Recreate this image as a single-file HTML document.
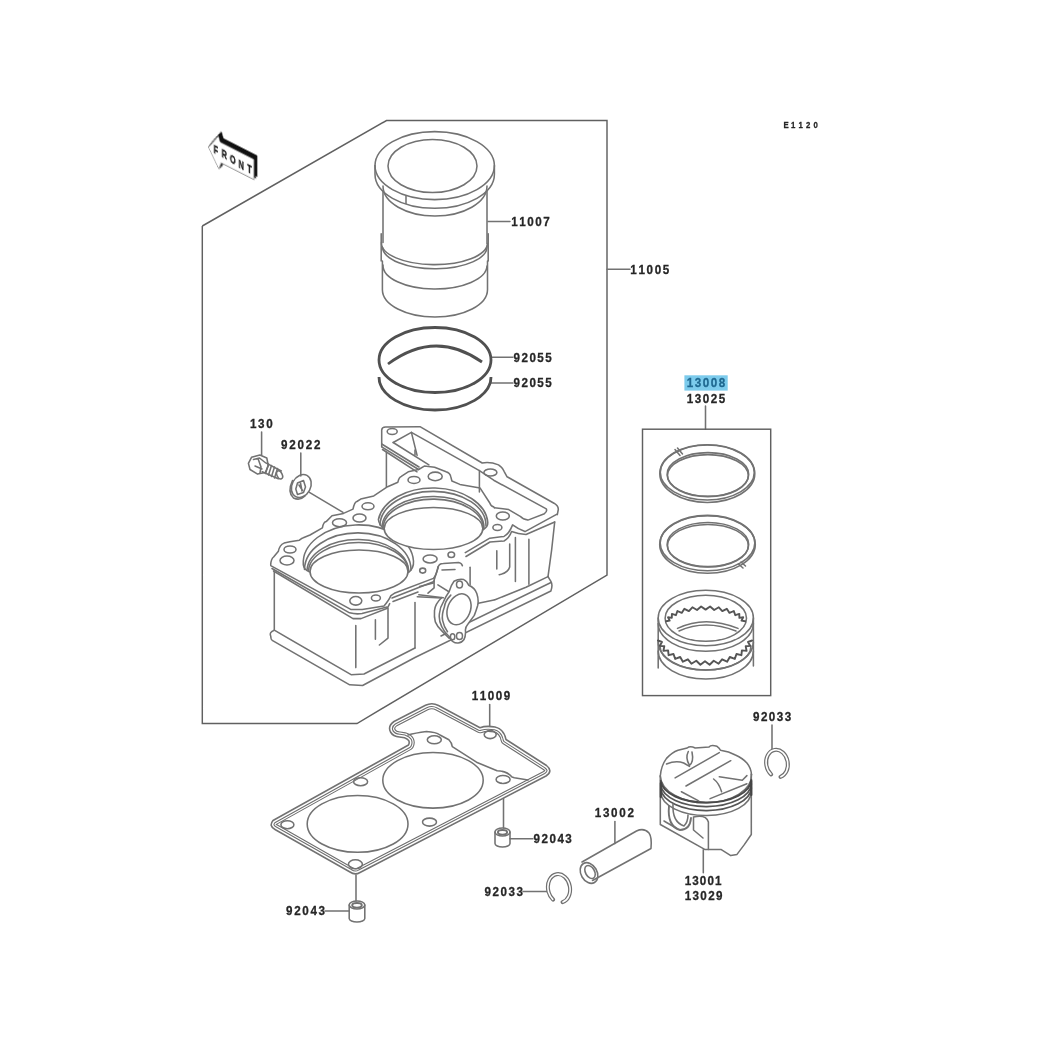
<!DOCTYPE html>
<html><head><meta charset="utf-8">
<style>
html,body{margin:0;padding:0;background:#fff;width:1045px;height:1045px;overflow:hidden}
svg{display:block;filter:blur(0.3px)}
.l{fill:none;stroke:#727272;stroke-width:1.55;stroke-linejoin:round;stroke-linecap:round}
.k{fill:none;stroke:#606060;stroke-width:1.45}
.w{fill:#fff;stroke:#6e6e6e;stroke-width:1.1;stroke-linejoin:round}
text{font-family:"Liberation Sans",sans-serif;font-weight:bold;font-size:12px;fill:#262626;stroke:#262626;stroke-width:0.3}
</style></head>
<body>
<svg width="1045" height="1045" viewBox="0 0 1045 1045">
<!-- big box -->
<polyline class="k" points="202.3,226 386.5,120.5 607,120.5 607,575 357,723.5 202.3,723.5 202.3,226"/>

<!-- FRONT arrow -->
<g id="front" style="will-change:transform" transform="matrix(1,0.51,0,1,208.4,147.1)">
<polygon points="0,0 10,-16.3 11.7,-11 45.5,-11 45.5,9.3 13,9.3 10.4,16.5" transform="translate(3,-5)" fill="#111" stroke="#111" stroke-width="1"/>
<polygon points="0,0 10,-16.3 11.7,-11 45.5,-11 45.5,9.3 13,9.3 10.4,16.5" transform="translate(1.5,-2.5)" fill="#111" stroke="#111" stroke-width="1"/>
<polygon points="0,0 10,-16.3 11.7,-11 45.5,-11 45.5,9.3 13,9.3 10.4,16.5" fill="#fff" stroke="#777" stroke-width="0.8"/>
<text transform="scale(0.62,1)" x="8.57 21.39 34.89 48.75 62.94" y="2.76 3.34 3.92 4.50 5.08" style="font-size:11.5px;fill:#1a1a1a;stroke:#1a1a1a;stroke-width:0.45">FRONT</text>
</g>

<!-- E1120 -->
<g style="will-change:transform"><text transform="scale(0.8,1)" x="979.47 988.85 998.23 1007.61 1016.98" y="127.85" style="font-size:9.74px">E1120</text></g>

<!-- labels -->
<rect x="684.4" y="375.3" width="43.3" height="15.3" fill="#7ccbec"/>
<g id="labels" style="will-change:transform">
<text transform="scale(0.9,1)" x="568.19 577.04 585.89 594.74 603.60" y="225.95" style="font-size:12.94px">11007</text>
<text transform="scale(0.9,1)" x="700.30 709.35 718.40 727.45 736.50" y="273.65" style="font-size:12.94px">11005</text>
<text transform="scale(0.9,1)" x="570.66 579.46 588.25 597.04 605.83" y="361.75" style="font-size:12.94px">92055</text>
<text transform="scale(0.9,1)" x="570.66 579.46 588.25 597.04 605.83" y="387.45" style="font-size:12.94px">92055</text>
<text transform="scale(0.9,1)" x="763.07 772.00 780.92 789.84 798.76" y="387.45" style="font-size:12.94px;fill:#1f6890;stroke:#1f6890">13008</text>
<text transform="scale(0.9,1)" x="762.96 771.90 780.84 789.78 798.72" y="402.75" style="font-size:12.94px">13025</text>
<text transform="scale(0.9,1)" x="277.74 286.76 295.78" y="428.25" style="font-size:12.94px">130</text>
<text transform="scale(0.9,1)" x="312.22 321.38 330.55 339.71 348.88" y="448.55" style="font-size:12.94px">92022</text>
<text transform="scale(0.9,1)" x="524.19 533.07 541.96 550.84 559.73" y="700.25" style="font-size:12.94px">11009</text>
<text transform="scale(0.9,1)" x="836.77 845.54 854.30 863.06 871.83" y="721.45" style="font-size:12.94px">92033</text>
<text transform="scale(0.9,1)" x="660.74 669.89 679.03 688.18 697.32" y="817.45" style="font-size:12.94px">13002</text>
<text transform="scale(0.9,1)" x="592.88 601.70 610.52 619.34 628.16" y="843.25" style="font-size:12.94px">92043</text>
<text transform="scale(0.9,1)" x="760.85 769.24 777.62 786.00 794.39" y="885.35" style="font-size:12.94px">13001</text>
<text transform="scale(0.9,1)" x="760.85 769.52 778.18 786.84 795.51" y="900.45" style="font-size:12.94px">13029</text>
<text transform="scale(0.9,1)" x="538.44 547.32 556.19 565.06 573.94" y="895.85" style="font-size:12.94px">92033</text>
<text transform="scale(0.9,1)" x="317.77 326.82 335.86 344.90 353.94" y="915.45" style="font-size:12.94px">92043</text>
</g>

<!-- leaders -->
<g class="l">
<path d="M488,221.5 H510"/>
<path d="M607,269.2 H630"/>
<path d="M491,357.3 H513"/>
<path d="M491,383 H513"/>
<path d="M705.5,406 V429.2"/>
<path d="M261.6,432 V455"/>
<path d="M300.8,453 V476"/>
<path d="M309.4,492.3 L343,512.4"/>
<path d="M489.7,704.4 V730"/>
<path d="M772,725 V749"/>
<path d="M614.9,821.6 V843.6"/>
<path d="M503.5,797.7 V828"/>
<path d="M510,838.8 H533"/>
<path d="M703.3,849.7 V872.8"/>
<path d="M523,891.4 H548"/>
<path d="M356,875 V901"/>
<path d="M325,911 H349"/>
</g>

<!-- sleeve 11007 -->
<g id="sleeve" class="l">
<ellipse cx="434.7" cy="165.6" rx="59.7" ry="34"/>
<ellipse cx="432.5" cy="166" rx="44.5" ry="26.5"/>
<path d="M375,165.6 V174.3 A59.7,34 0 0 0 494.4,174.3 V165.6"/>
<path d="M383,190.5 V242.4 M487,190.5 V243.6"/>
<path d="M383,186 A52,30 0 0 0 487,186"/>
<path d="M406,196 V203.5"/>
<path d="M381.2,233.7 V261 M488.2,233.7 V261"/>
<path d="M381.5,242.4 A52.7,21.5 0 0 0 487.5,243.6"/>
<path d="M382.5,247.4 A52.2,22 0 0 0 487,246.1"/>
<path d="M383,265 A52,23.5 0 0 0 487,266"/>
<path d="M382.4,261 V289.7 A52.5,27.3 0 0 0 487.5,289.7 V261"/>
</g>

<!-- rings 92055 -->
<g id="rings" style="fill:none;stroke:#505050;stroke-width:2.8">
<ellipse cx="435" cy="360" rx="56" ry="32.5"/>
<path d="M388,364 Q435,329 482,362"/>
<path d="M379,377 A56,33 0 0 0 491,377"/>
</g>

<!-- piston ring box -->
<rect class="k" x="642.5" y="429.2" width="128.2" height="266.4"/>
<g id="pring" class="l">
<ellipse cx="707.3" cy="473.7" rx="47.5" ry="28.7"/>
<ellipse cx="707.3" cy="472.3" rx="47" ry="27.6"/>
<ellipse cx="707.9" cy="474.4" rx="40.8" ry="21.8"/>
<ellipse cx="707.9" cy="475.6" rx="40.4" ry="21"/>
<path d="M675,449.5 L680,455.5 M677.5,448 L682.5,454"/>
<ellipse cx="707.5" cy="544.5" rx="47.8" ry="28.8"/>
<ellipse cx="707.5" cy="543.1" rx="47.3" ry="27.7"/>
<ellipse cx="707.9" cy="544.5" rx="40.8" ry="22.1"/>
<ellipse cx="707.9" cy="545.7" rx="40.4" ry="21.3"/>
<path d="M738.5,564 L743,568 M741,562 L745.5,566"/>
<!-- oil ring -->
<ellipse cx="705.8" cy="618" rx="47.6" ry="27.7"/>
<ellipse cx="705.8" cy="618.3" rx="40.7" ry="23"/>
<path d="M677.5,628.4 Q705,615 738,628.4 M679,631 Q705,619 736,631"/>
<path d="M658.2,618 V668 M753.4,618 V666"/>
<path d="M658.2,623.5 A47.6,27.7 0 0 0 753.4,623.5"/>
<path d="M658.2,642 A47.6,28 0 0 0 753.4,642"/>
<path d="M658.2,651 A47.6,28 0 0 0 753.4,651"/>
<path d="M660,646 A45.5,24 0 0 0 751,646"/>
<path d="M666.1,621.3 L669.7,620.6 L668.0,617.3 L671.8,617.9 L671.9,613.9 L675.9,615.2 L677.4,611.0 L681.7,612.9 L684.4,608.8 L688.9,611.1 L692.4,607.3 L697.0,610.0 L701.1,606.5 L705.6,609.6 L710.1,606.5 L714.2,610.0 L718.8,607.3 L722.3,611.1 L726.8,608.8 L729.5,612.9 L733.8,611.0 L735.3,615.2 L739.3,613.9 L739.4,617.9 L743.2,617.3 L741.5,620.6 L745.1,621.3" style="stroke:#555;stroke-width:1.9"/>
<path d="M752.1,640.5 L748.0,642.0 L750.3,645.9 L745.7,646.3 L746.6,650.9 L741.9,650.4 L741.4,655.2 L736.5,654.0 L734.8,658.9 L729.8,657.0 L727.1,661.7 L722.1,659.3 L718.6,663.7 L713.7,660.7 L709.6,664.7 L705.0,661.2 L700.4,664.7 L696.3,660.7 L691.4,663.7 L687.9,659.3 L682.9,661.7 L680.2,657.0 L675.2,658.9 L673.5,654.0 L668.6,655.2 L668.1,650.4 L663.4,650.9 L664.3,646.3 L659.7,645.9 L662.0,642.0 L657.9,640.5" style="stroke:#555;stroke-width:1.9"/>
</g>

<!-- cylinder block -->
<g id="block" class="l">
<!-- frame (tunnel top) -->
<path d="M381.7,446.8 V430 Q382,427 385.5,427 L420,426.7 L482.2,463 Q490,461.5 498.5,464.9 Q503,468 504.2,471.6 L507.1,476.8 L554,503.2 Q558.5,506 558.3,509.5 L557.3,514.6"/>
<path d="M381.7,444 L419,467 M381.7,446.8 L418.6,469.5 M382.5,449.5 L417,471.8"/>
<path d="M386.4,452 V487"/>
<path d="M393.2,442.5 L411.4,432.4 L479.4,470.6 L493.7,480.2 L546.3,508.9 Q547.5,511.5 544.4,513.7 L527.9,520.1 Q523,519.5 520.2,516.3 L508.7,509.6 L494.4,507.7"/>
<path d="M393.2,442.5 L428.9,464.9"/>
<path d="M411.4,432.4 L417.1,455.4"/>
<path d="M479.4,470.6 V492 M415,450 V455"/>
<ellipse cx="392.2" cy="431.5" rx="5" ry="3"/>
<ellipse cx="490.4" cy="472.5" rx="6.5" ry="3.5"/>
<!-- deck outline -->
<path d="M270.7,564.6 Q271,559 273.6,557 L278.4,551.2 Q279.5,545 284.1,543.1 L289.9,541.7 L299.4,540.2 Q302,538 303.3,537.8 L310,535 L322.4,527.8 Q323.5,522 326.2,521.6 L332,515.8 L343.5,513.4 L353,509.1 Q354.5,502 356.9,501.5 L360.7,499.1 L373.8,495.9 L387.6,486.7 L397.9,482.2 Q399,477 401.3,476.4 L408.2,471.8 L418.6,469.5 L424.3,466.1 L434.6,467.2 L446.1,471.8 Q450,473 450.7,476.4 L451.9,481 L459.9,484.4 L480,487.9 L489.8,503 Q491,506.5 493.6,506.8 L494.4,507.7"/>
<ellipse cx="287" cy="560.5" rx="7" ry="4.5"/>
<ellipse cx="290" cy="549.5" rx="6" ry="3.5"/>
<ellipse cx="339.5" cy="522.7" rx="7" ry="4"/>
<ellipse cx="359.5" cy="518" rx="6.5" ry="4"/>
<ellipse cx="368" cy="506.3" rx="6" ry="3.5"/>
<ellipse cx="414" cy="479.9" rx="6" ry="3.5"/>
<ellipse cx="435.2" cy="476.4" rx="7" ry="4.3"/>
<ellipse cx="502.8" cy="516" rx="6.5" ry="4"/>
<ellipse cx="497.4" cy="527.5" rx="4.5" ry="3"/>
<ellipse cx="430.1" cy="558.9" rx="7" ry="4"/>
<ellipse cx="451.3" cy="554.7" rx="3.3" ry="2.8"/>
<ellipse cx="422.7" cy="570.6" rx="3" ry="2.5"/>
<ellipse cx="355.8" cy="600.8" rx="6" ry="4.3"/>
<ellipse cx="375.9" cy="597.9" rx="4.5" ry="3"/>
<!-- left bore -->
<path d="M303.3,565 A55,38 0 0 1 413.5,561 Q414,568 408.5,572.5 M303.3,565 Q304,570 310,572"/>
<path d="M304.5,569.5 A52,36 0 0 1 411,570"/>
<path d="M307,570.5 A50.5,31.5 0 0 1 408.5,572"/>
<path d="M308.5,571.5 A49.5,29 0 0 1 408.5,572"/>
<ellipse cx="359" cy="571.5" rx="49" ry="21.5"/>
<!-- right bore -->
<path d="M378.4,519.5 A55,36.5 0 0 1 487.8,522.5 Q488,527 482.9,529.8 M378.4,519.5 Q379,525 384.2,529"/>
<path d="M380,525 A52,33.5 0 0 1 486,526"/>
<path d="M382,527 A50.5,31 0 0 1 484,528.5"/>
<path d="M383,528 A50,29.5 0 0 1 483.5,529.5"/>
<ellipse cx="433.5" cy="528.5" rx="49.3" ry="21" fill="#fff"/>
<!-- deck right part -->
<path d="M465.3,552.7 L489.8,538.2 L504,536.4 Q509,534 512.6,524.9 Q518,529 525,531.6 L556.6,514.4"/>
<path d="M466,556.5 L490,542 L504,541 Q509,538.5 511.6,531.6 Q518,534 526,534.5 L554.7,522"/>
<!-- deck front edge left -->
<path d="M270.7,565.6 L350.7,609.4 L362.2,609.4 L384,606 Q389,600 390.9,595.6 L394.3,593.3 L433.4,578.4 Q437,574 438,566.9"/>
<path d="M272,568.5 L349.5,612.8 Q356,614.5 362,613.5 L387,607 M392,598 L434,581.5"/>
<path d="M273.5,571 L353,618.6 L361,618.6 L387.4,608.2 L389.7,603.6 M393,601.5 L418,592"/>
<!-- left face & base -->
<path d="M274.3,571 V629.5"/>
<path d="M274.3,630.2 L351.1,674.7 L364,674 L415,648 M441,636 L551,582.5"/>
<path d="M274.3,630.2 Q269,632 270.7,636 Q271,640 272.2,640.3 L349.7,684.8 L362.6,685.5 L415,657.5 L550.9,591 Q553,585 550.9,581.4 L548,576.6"/>
<path d="M355.8,625.5 V667.6 M375.4,619.7 V639.2 M388,608.2 V638.1 L379.4,645"/>
<path d="M415,602.5 V648"/>
<path d="M417.3,596.7 L441.4,597.9 M419.6,586.4 L433.4,583"/>
<!-- right face -->
<path d="M554.7,522 Q552,550 548,576.6"/>
<path d="M515.4,537.4 V581.4 M528.9,539.3 V584.3 M509.7,544 V567 Q508,573 499.2,574.7 M496.8,550.8 V569"/>
<path d="M548,576.6 L526,587.2 L494.4,600 M441,611 L494,600"/>
<!-- port -->
<path d="M437.9,568 Q438.5,563.5 443.3,563.4 L458.6,562.6 Q461.5,563 462.4,565.7"/>
<path d="M442,570 L455,569.5"/>
<path d="M434.1,580.2 V587.9 L428,593.2 M418.8,594.8 L443.3,597.8"/>
<path d="M437.9,584.8 L452.5,594"/>
<path d="M470.1,567.2 V584.8"/>
<path d="M437.9,568 L434.1,580.2"/>
<path d="M441.8,597.5 Q435,604 434.5,610.5 Q434,617 435.3,621.9 Q437.5,627 441.8,630.9 L449.1,638.2"/>
<path d="M454,581.3 Q459,578.5 463.8,579.6 Q467,581 468.7,585.3 Q475,588 476.8,593.5 Q479,600 477.6,605.7 Q476,611 474.3,615.4 L467.8,624.3 Q465.5,627 465.4,630 Q466,636 463.8,639.8 Q461,643.5 457.3,643 Q452,643 449.1,636.5 Q444,632 441.8,626.8 Q438.5,620 439.4,613.8 Q440,607 443.5,601.6 Q446,596 449.1,591.8 Q451,585 454,581.3 Z" style="fill:#fff"/>
<path d="M450.8,595.1 Q445,601 444.3,607.3 Q441.5,615 442.6,620.3 Q444,627 447.5,631.7"/>
<ellipse cx="459" cy="609.3" rx="11.3" ry="16" transform="rotate(22 459 609.3)"/>
<ellipse cx="459.5" cy="584.5" rx="3" ry="3.5"/>
<ellipse cx="459.5" cy="636" rx="3" ry="3.5"/>
<ellipse cx="452.6" cy="636.8" rx="2.2" ry="3"/>
</g>

<!-- gasket -->
<defs>
<path id="gP" d="M273,820.5 Q268.5,826 275,829.5 L350,872 Q355,875.5 360,872.5 L546,776 Q553.5,771 546.5,765.5 L506,739.5 Q504,729 495,727 Q486,725.5 480,727.7 L438.5,705.5 Q432,702 425.5,705.3 L394,721.5 Q387.5,726 390.5,732 Q393,736.5 399.5,737 L404.5,737.8 Q411,740 408.5,745 Z"/>
<clipPath id="gC"><use href="#gP"/></clipPath>
</defs>
<g id="gasket" class="l">
<g clip-path="url(#gC)" style="fill:none">
<use href="#gP" style="stroke:#6e6e6e;stroke-width:11.1"/>
<use href="#gP" style="stroke:#fff;stroke-width:8.9"/>
<use href="#gP" style="stroke:#6e6e6e;stroke-width:6.7"/>
<use href="#gP" style="stroke:#fff;stroke-width:4.5"/>
</g>
<use href="#gP"/>
<path d="M408,735 Q415,733 426.5,731.5 Q436,732 440,735 L448.9,739.8 Q452,743 452.3,746.7 L476.5,762.2 L497.1,770.8 Q507,771 512,777 L514.3,777.7 L528,780"/>
<ellipse cx="357.6" cy="823.9" rx="50.4" ry="28.4"/>
<ellipse cx="433" cy="780.3" rx="50.2" ry="27.8"/>
<ellipse cx="287.4" cy="824.7" rx="6.5" ry="4"/>
<ellipse cx="360.6" cy="781.7" rx="7" ry="4"/>
<ellipse cx="355.4" cy="864.3" rx="7" ry="4.5"/>
<ellipse cx="429.5" cy="822.1" rx="7" ry="4"/>
<ellipse cx="434.3" cy="739.8" rx="7" ry="4"/>
<ellipse cx="490.2" cy="734.6" rx="6" ry="4"/>
<ellipse cx="503.1" cy="779.4" rx="7" ry="4"/>
</g>

<!-- small parts -->
<g id="parts" class="l">
<!-- dowels -->
<path d="M495,832 V843.5 A7.5,3.5 0 0 0 510,843.5 V832"/>
<ellipse cx="502.5" cy="832" rx="7.5" ry="4"/>
<ellipse cx="502.5" cy="832.3" rx="4.6" ry="2.3" style="stroke-width:1.9"/>
<path d="M349.2,905 V918.5 A7.8,3.5 0 0 0 364.8,918.5 V905"/>
<ellipse cx="357" cy="905" rx="7.8" ry="4"/>
<ellipse cx="357" cy="905.3" rx="4.8" ry="2.3" style="stroke-width:1.9"/>
<!-- pin -->
<path d="M582,862 L636.5,831 Q644,827.5 649,833 Q652,837 651,848.5 L592.5,880.5"/>
<ellipse cx="589" cy="873" rx="8" ry="11" transform="rotate(-30 589 873)"/>
<ellipse cx="590" cy="872" rx="4.5" ry="7" transform="rotate(-30 590 872)"/>
<!-- circlips -->
<g style="stroke:#707070;stroke-width:4;stroke-linecap:round">
<ellipse cx="777" cy="763.5" rx="10.8" ry="13.8" transform="rotate(-10 777 763.5)" pathLength="100" stroke-dasharray="87 13" stroke-dashoffset="-36.5"/>
<ellipse cx="559" cy="888.3" rx="11" ry="14.3" transform="rotate(-10 559 888.3)" pathLength="100" stroke-dasharray="87 13" stroke-dashoffset="-36.5"/>
</g>
<g style="stroke:#fff;stroke-width:1.6;stroke-linecap:round">
<ellipse cx="777" cy="763.5" rx="10.8" ry="13.8" transform="rotate(-10 777 763.5)" pathLength="100" stroke-dasharray="86 14" stroke-dashoffset="-37"/>
<ellipse cx="559" cy="888.3" rx="11" ry="14.3" transform="rotate(-10 559 888.3)" pathLength="100" stroke-dasharray="86 14" stroke-dashoffset="-37"/>
</g>
<!-- bolt -->
<path d="M251.5,457.3 L259.9,455 L266.8,458 L268.3,465.7 L265.3,472.6 L257.6,474.1 L250,469.5 L248.4,463.4 Z"/>
<path d="M253.5,459.5 L259.5,458 L264.5,462 M255,466 L262,469 M258,458.5 L261,467 L260,473"/>
<path d="M265.3,462.6 L281.3,471 M262.2,471.8 L278.3,478.7"/>
<ellipse cx="279.6" cy="474.9" rx="2.6" ry="4.3" transform="rotate(-25 279.6 474.9)"/>
<path d="M268.5,464 L265.5,473.5 M271.5,465.5 L268.5,475 M274.5,467 L271.5,476.5 M277.5,468.5 L274.5,478"/>
<!-- washer -->
<ellipse cx="301.3" cy="486" rx="9.3" ry="12" transform="rotate(28 301.3 486)"/>
<path d="M292.5,480.5 Q287,492 293.5,498 Q300,501 305,496"/>
<path d="M297.5,483 L303.5,480.5 L305.5,487 L303.5,492.5 L297.5,494.5 L295.8,489 Z"/>
<path d="M299,485 L302.5,490.5 M300.5,483 L302,491"/>
<!-- piston -->
<path d="M660.3,776 Q661,766 666.5,758.4 Q672,752.5 678,750.3 L687.2,748 Q690,745.5 695.2,748 L709,746.9 Q711,744.5 717,746.3 Q719.5,748 720.5,750.3 Q729,751.5 735.4,755 Q743,758.5 746.9,763 Q751,768 751.5,774.5"/>
<path d="M660.3,776 A45.6,27.5 0 0 0 751.5,774.5"/>
<path d="M660.3,776 V824.5 L704.7,849.4 L720.9,849.4 L730.8,855.6 L737,854.4 L744.5,844.4 L751.3,834.5 V774"/>
<path d="M660.8,781 A45.3,23 0 0 0 751.3,780" style="stroke:#4a4a4a;stroke-width:2"/>
<path d="M660.8,785 A45.3,23 0 0 0 751.3,784" style="stroke:#555;stroke-width:1.8"/>
<path d="M660.8,789 A45.3,23 0 0 0 751.3,788" style="stroke:#555;stroke-width:1.8"/>
<path d="M661,793 A45,23 0 0 0 751,792"/>
<path d="M660.8,783 V797 M751.3,781 V795" style="stroke:#444;stroke-width:2.2"/>
<path d="M675.1,777.9 L719.3,752.6 M686,786 L730.8,760.7"/>
<path d="M688.3,751.5 Q685,758 689.5,765.3 Q694,762 692,752"/>
<path d="M666.5,764 Q676,760 683.7,763 L689.5,766.4"/>
<path d="M713.6,779 Q719,783 721.6,791.7 M719.3,776.8 L742.3,780.2 L746.9,775.6"/>
<path d="M681.4,791.7 L698.7,800.9 M710.1,798.6 L746.9,783.7"/>
<path d="M693.5,817 Q706,814 708.4,821.9 V849.4 M693.5,817 V830 L703,838"/>
<path d="M669,806 Q667,826 680,830 Q690,830 691,818" style="stroke-width:1.9"/>
<path d="M673,804 Q672,822 684,826 Q688,822 688,815"/>
<path d="M664,821 L676,828"/>
</g>
</svg>
</body></html>
